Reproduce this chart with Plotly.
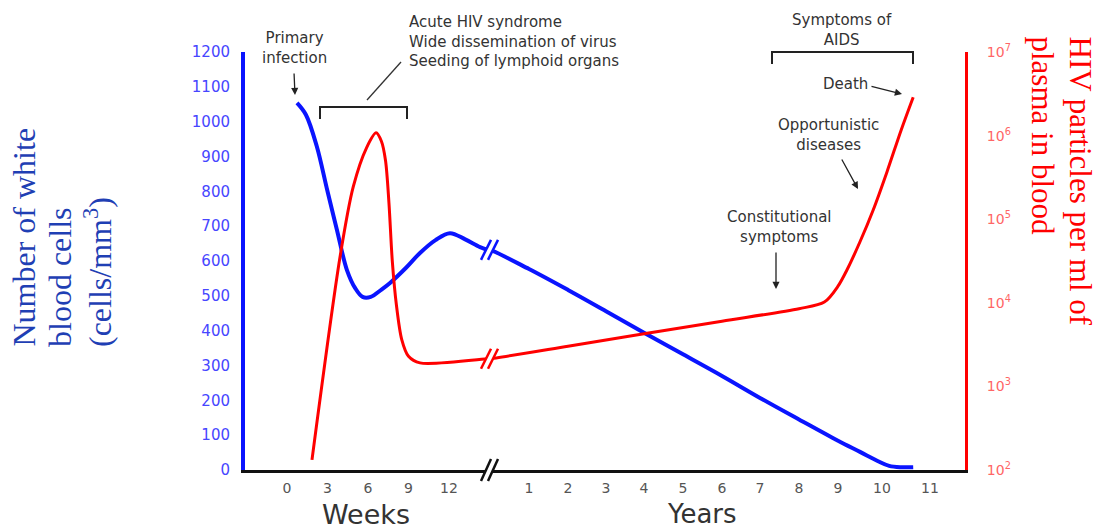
import numpy as np
import plotly.graph_objects as go

# ---------------- data ----------------
# White blood cells (cells/mm3) during the first weeks
wbc_weeks = [0.74, 1.4, 2.2, 3.0, 3.7, 4.44, 5.05, 5.6, 6.2, 7.0, 7.63, 8.8, 9.85, 11.0, 12.07, 13.2, 14.3, 14.9]
wbc_weeks_val = [1054, 1020, 930, 800, 689, 574, 522, 497, 497, 518, 537, 580, 623, 660, 680, 662, 640, 632]
# White blood cells during the following years
wbc_years = [0, 1, 2, 3, 4, 5, 6, 7, 8, 9, 9.5, 9.9, 10.15, 10.4, 10.65]
wbc_years_val = [632, 577, 517, 456, 394, 332, 270, 207, 145, 84, 52, 26, 12, 8, 8]

# HIV particles per ml of plasma during the first weeks
hiv_weeks = [1.85, 3.93, 4.91, 5.9, 6.6, 7.0, 7.3, 7.55, 7.8, 8.1, 8.5, 9.0, 9.85, 14.9]
hiv_weeks_val = [132, 35500, 245000, 720000, 1080000, 850000, 500000, 158000, 31600, 9550,
                 3630, 2290, 1910, 2140]
# HIV particles during the following years
hiv_years = [0, 2, 4, 6, 8, 8.65, 9.0, 9.2, 9.5, 9.8, 10.1, 10.4, 10.65]
hiv_years_val = [2140, 3020, 4270, 6030, 8510, 10200, 15800, 24500, 53700, 129000, 363000,
                 1170000, 2880000]

week_ticks = [0, 3, 6, 9, 12]
year_ticks = [1, 2, 3, 4, 5, 6, 7, 8, 9, 10, 11]
wbc_ticks = list(range(0, 1201, 100))
hiv_ticks = [1e2, 1e3, 1e4, 1e5, 1e6, 1e7]
hiv_tick_text = ["10<sup>%d</sup>" % e for e in range(2, 8)]

# ---------------- layout helpers ----------------
W, H = 1099, 530
L, R, T, B = 245, 965, 52, 470          # plot area in pixels
WEEK0_POS, WEEK_STEP = 287, 13.5
YEAR_POS = [490, 529, 568, 606, 644, 683, 722, 760, 799, 838, 882, 930]   # positions of years 0..11


def week_pos(w):
    return WEEK0_POS + np.asarray(w, dtype=float) * WEEK_STEP


def year_pos(y):
    return np.interp(np.asarray(y, dtype=float), np.arange(len(YEAR_POS)), YEAR_POS)


def fx(px):
    return (px - L) / (R - L)


def fy(py):
    return (B - py) / (B - T)


BLUE = "#0a14ff"
RED = "#ff0000"
DARK = "#333333"

fig = go.Figure()
fig.add_trace(go.Scatter(
    x=np.concatenate([week_pos(wbc_weeks), year_pos(wbc_years)]),
    y=wbc_weeks_val + wbc_years_val,
    mode="lines", line=dict(color=BLUE, width=4, shape="spline", smoothing=1.0),
    yaxis="y", hoverinfo="skip"))
fig.add_trace(go.Scatter(
    x=np.concatenate([week_pos(hiv_weeks), year_pos(hiv_years)]),
    y=hiv_weeks_val + hiv_years_val,
    mode="lines", line=dict(color=RED, width=3, shape="spline", smoothing=0.85),
    yaxis="y2", hoverinfo="skip"))

shapes = []


def break_mark(cx, cy, color, h=10, lw=2.5):
    pts = [(cx - 8, cy + h), (cx + 2, cy - h), (cx + 9, cy - h), (cx - 1, cy + h)]
    path = "M " + " L ".join("%f,%f" % (fx(a), fy(b)) for a, b in pts) + " Z"
    shapes.append(dict(type="path", xref="paper", yref="paper", path=path,
                       fillcolor="white", line=dict(width=0), layer="above"))
    for (a0, b0), (a1, b1) in [(pts[0], pts[1]), (pts[3], pts[2])]:
        shapes.append(dict(type="line", xref="paper", yref="paper",
                           x0=fx(a0), y0=fy(b0), x1=fx(a1), y1=fy(b1),
                           line=dict(color=color, width=lw), layer="above"))


brk_x = float(year_pos(0)) - 1
break_mark(brk_x, B - wbc_years_val[0] * (B - T) / 1200, BLUE)
break_mark(brk_x, B - (np.log10(hiv_years_val[0]) - 2) * (B - T) / 5, RED)
break_mark(brk_x, B, "#111111", h=11)


def bracket(x0, x1, ytop, ybot):
    path = "M %f,%f L %f,%f L %f,%f L %f,%f" % (fx(x0), fy(ybot), fx(x0), fy(ytop),
                                               fx(x1), fy(ytop), fx(x1), fy(ybot))
    shapes.append(dict(type="path", xref="paper", yref="paper", path=path,
                       line=dict(color="#222222", width=2)))


bracket(320, 407, 107, 119)
bracket(772, 913, 52, 64)
shapes.append(dict(type="line", xref="paper", yref="paper", x0=fx(367), y0=fy(100),
                   x1=fx(401), y1=fy(62), line=dict(color="#333333", width=1.3)))

ann = []
TF = dict(family="DejaVu Sans", size=15, color=DARK)


def text(px, py, s, xanchor="center", align="center", font=TF):
    ann.append(dict(x=fx(px), y=fy(py), xref="paper", yref="paper", text=s, showarrow=False,
                    xanchor=xanchor, yanchor="middle", align=align, font=font))


def arrow(tx, ty, hx, hy):
    ann.append(dict(x=fx(hx), y=fy(hy), xref="paper", yref="paper", text="", showarrow=True,
                    ax=tx - hx, ay=ty - hy, arrowhead=2, arrowsize=1.1, arrowwidth=1.3,
                    arrowcolor="#222222"))


text(294, 48, "Primary<br>infection")
arrow(294, 72, 295, 95)
text(407, 42, "Acute HIV syndrome<br>Wide dissemination of virus<br>Seeding of lymphoid organs",
     xanchor="left", align="left")
text(842, 30, "Symptoms of<br>AIDS")
text(845, 84, "Death")
arrow(870, 86, 902, 94)
text(828, 135, "Opportunistic<br>diseases")
arrow(841, 158, 858, 189)
text(779, 227, "Constitutional<br>symptoms")
arrow(776, 251, 776, 289)
text(366, 514, "Weeks", font=dict(family="DejaVu Sans", size=27, color=DARK))
text(702, 514, "Years", font=dict(family="DejaVu Sans", size=26, color=DARK))

# axis titles
serif_blue = dict(family="Liberation Serif", size=32, color="#1f3fb4")
for px, s in [(23, "Number of white"), (60, "blood cells"), (98, "(cells/mm<sup>3</sup>)")]:
    ann.append(dict(x=fx(px), y=fy(349), xref="paper", yref="paper", text=s, showarrow=False,
                    textangle=-90, xanchor="center", yanchor="bottom", font=serif_blue))
serif_red = dict(family="Liberation Serif", size=31, color=RED)
for px, s in [(1080, "HIV particles per ml of"), (1042, "plasma in blood")]:
    ann.append(dict(x=fx(px), y=fy(34), xref="paper", yref="paper", text=s, showarrow=False,
                    textangle=90, xanchor="center", yanchor="top", font=serif_red))

fig.update_layout(
    width=W, height=H,
    margin=dict(l=L, r=W - R, t=T, b=H - B, pad=0),
    paper_bgcolor="white", plot_bgcolor="white", showlegend=False,
    xaxis=dict(range=[L, R], showgrid=False, zeroline=False, showline=True,
               linecolor="#111111", linewidth=3, ticks="",
               tickvals=list(week_pos(week_ticks)) + list(year_pos(year_ticks)),
               ticktext=[str(v) for v in week_ticks] + [str(v) for v in year_ticks],
               tickfont=dict(family="DejaVu Sans", size=14, color="#555555"),
               ticklabelstandoff=3, fixedrange=True),
    yaxis=dict(range=[0, 1200], tickvals=wbc_ticks, showgrid=False, zeroline=False,
               showline=True, linecolor=BLUE, linewidth=4, ticks="",
               tickfont=dict(family="DejaVu Sans", size=15, color="#4646ff"),
               ticklabelstandoff=8, fixedrange=True),
    yaxis2=dict(overlaying="y", side="right", type="log", range=[2, 7],
                tickvals=hiv_ticks, ticktext=hiv_tick_text, showgrid=False, zeroline=False,
                showline=True, linecolor=RED, linewidth=3, ticks="",
                tickfont=dict(family="DejaVu Sans", size=14, color="#ff6666"),
                ticklabelstandoff=16, fixedrange=True),
    shapes=shapes, annotations=ann,
)

fig.write_html("out.html", post_script="document.body.style.margin='0';",
               config={"displayModeBar": False})
